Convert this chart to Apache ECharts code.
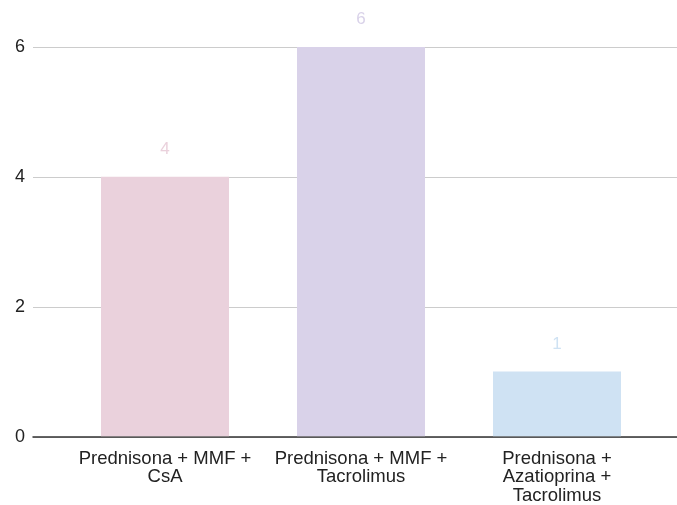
<!DOCTYPE html>
<html>
<head>
<meta charset="utf-8">
<script src="https://cdn.jsdelivr.net/npm/echarts@6/dist/echarts.min.js"></script>
<style>
  html, body { margin: 0; padding: 0; background: #fff; }
  #chart { width: 677px; height: 505px; }
</style>
</head>
<body>
<div id="chart"></div>
<script>
// Treatment regimens (line breaks as shown under the axis)
const categories = [
  'Prednisona + MMF +\nCsA',
  'Prednisona + MMF +\nTacrolimus',
  'Prednisona +\nAzatioprina +\nTacrolimus'
];
const values = [4, 6, 1];
const barColors = ['#ead1dc', '#d9d2e9', '#cfe2f3'];
const yTicks = [0, 2, 4, 6];

const chart = echarts.init(document.getElementById('chart'), null, { renderer: 'canvas' });

const font = 'Liberation Sans, Arial, sans-serif';

chart.setOption({
  animation: false,
  backgroundColor: '#ffffff',
  grid: [
    // full-width grid: gridlines, y labels and baseline
    { left: 33, right: 0, top: 47, bottom: 68, containLabel: false },
    // inner grid holding the bars
    { left: 67, right: 22, top: 47, bottom: 68, containLabel: false }
  ],
  xAxis: [
    {
      gridIndex: 0, type: 'category', data: [''],
      axisLine: { show: true, lineStyle: { color: '#333333', width: 1.5 } },
      axisTick: { show: false }, axisLabel: { show: false }, splitLine: { show: false }
    },
    {
      gridIndex: 1, type: 'category', data: categories,
      axisLine: { show: false }, axisTick: { show: false },
      axisLabel: {
        interval: 0, margin: 13, color: '#222222', fontSize: 18.5,
        fontFamily: font, lineHeight: 18.5, align: 'center'
      }
    }
  ],
  yAxis: [
    {
      gridIndex: 0, type: 'value', min: yTicks[0], max: yTicks[yTicks.length - 1], interval: 2,
      axisLine: { show: false }, axisTick: { show: false },
      axisLabel: { color: '#222222', fontSize: 18, fontFamily: font, margin: 8 },
      splitLine: { show: true, lineStyle: { color: '#cccccc', width: 1 } }
    },
    {
      gridIndex: 1, type: 'value', min: yTicks[0], max: yTicks[yTicks.length - 1], interval: 2,
      show: false, splitLine: { show: false }
    }
  ],
  series: [
    {
      type: 'bar',
      xAxisIndex: 1, yAxisIndex: 1,
      barWidth: 128,
      data: values.map((v, i) => ({
        value: v,
        itemStyle: { color: barColors[i] },
        label: { color: barColors[i] }
      })),
      label: {
        show: true, position: 'top', distance: 19,
        fontSize: 17, fontFamily: font
      },
      z: 1
    }
  ]
});
</script>
</body>
</html>
